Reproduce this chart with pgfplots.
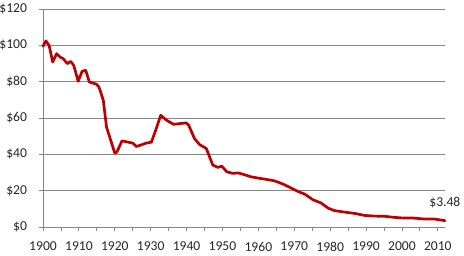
\documentclass[border=0pt]{standalone}
\usepackage{fontspec}
\setmainfont{Carlito}
\usepackage{pgfplots}
\pgfplotsset{compat=1.18}
\definecolor{lineRed}{RGB}{188,0,0}
\definecolor{gridGray}{RGB}{134,134,134}
\begin{document}
\begin{tikzpicture}
\path[use as bounding box] (0,0) rectangle (464bp,256bp);
\begin{axis}[
  at={(43bp,29bp)}, anchor=south west,
  scale only axis, width=402bp, height=218bp,
  xmin=1900, xmax=2012, ymin=0, ymax=120,
  axis x line*=bottom, axis y line*=left,
  axis line style={gridGray, line width=0.8bp},
  xtick={1900,1910,...,2010},
  xticklabels={1900,1910,1920,1930,1940,1950,1960,1970,1980,1990,2000,2010},
  minor xtick={1905,1915,...,2010},
  ytick={0,20,...,120},
  yticklabels={\$0,\$20,\$40,\$60,\$80,\$100,\$120},
  tick align=outside,
  major tick length=4bp, minor tick length=4bp,
  tick style={gridGray, line width=0.8bp},
  ymajorgrids, major grid style={gridGray, line width=0.8bp},
  tick label style={font=\fontsize{13.6bp}{16bp}\selectfont, text=black!85},
  yticklabel style={xshift=-8.5bp},
  xticklabel style={yshift=-7.5bp},
  clip=false,
]
\addplot[lineRed, line width=2.7bp, line join=round, line cap=round] coordinates {
(1900,99.5) (1900.8,102.4) (1901.7,100) (1902.7,90.8) (1903.8,95.4) (1904.7,93.6)
(1905.6,92.7) (1906.8,89.9) (1907.7,91.2) (1908.6,88.8) (1909.8,80.2) (1910.9,85.7)
(1911.9,86.3) (1912.9,79.8) (1914.9,78.6) (1915.6,77) (1916.8,69.8) (1917.7,55)
(1920,40.7) (1920.6,41.3) (1922,47.4) (1923.7,46.7) (1925,46.2) (1926,44.3)
(1927.4,45.2) (1928.8,46.2) (1930.2,46.7) (1931.6,54.4) (1932.8,61.5) (1934.4,58.8)
(1936.4,56.5) (1938.5,57) (1939.9,57.3) (1940.6,56) (1942.2,48.7) (1943.6,45.4)
(1945.5,43.2) (1947.3,34.1) (1948.7,32.8) (1949.8,33.5) (1951.2,30.4) (1952.9,29.5)
(1954.3,29.8) (1955.6,29.1) (1958,27.6) (1960.3,26.8) (1962,26.3) (1964.5,25.4)
(1966.9,23.6) (1969.2,21.4) (1971,19.6) (1972.9,18.1) (1975.2,15) (1977.5,13.2)
(1979.4,10.4) (1981.2,9) (1984,8.2) (1986.8,7.5) (1989.5,6.4) (1992.3,6)
(1995.1,5.9) (1997.9,5.3) (2000.6,4.9) (2003.3,4.9) (2006.2,4.4) (2009,4.4)
(2012,3.48)
} node[pos=1, anchor=base west, xshift=-17bp, yshift=13.7bp, inner sep=0pt,
       font=\fontsize{13.6bp}{16bp}\selectfont, text=black!85] {\$3.48};
\end{axis}
\end{tikzpicture}
\end{document}
